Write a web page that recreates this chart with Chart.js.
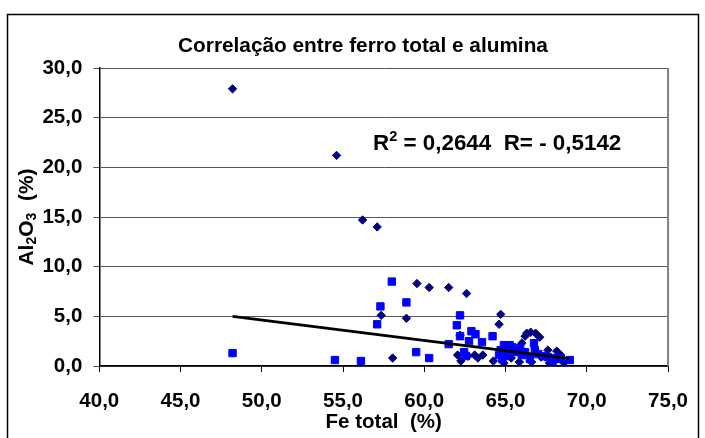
<!DOCTYPE html>
<html>
<head>
<meta charset="utf-8">
<script src="https://cdn.jsdelivr.net/npm/chart.js@4/dist/chart.umd.min.js"></script>
<style>
  html, body { margin: 0; padding: 0; background: #fff; }
  canvas { display: block; }
</style>
</head>
<body>
<canvas id="c" width="705" height="438"></canvas>
<script>
// Fe total (%) and Al2O3 (%) — first sample group (navy diamonds)
const feGrupo1 = [48.2, 54.6, 56.2, 57.1, 57.35, 58.05, 58.9, 59.55, 60.3, 61.5,
                  62.6, 64.7, 64.6, 62.2, 62.05, 62.25, 62.7, 63.1, 63.3, 63.6,
                  64.25, 65.1, 65.35, 65.85, 66.0, 66.2, 66.3, 66.55, 66.85, 67.1,
                  66.6, 67.6, 68.15, 67.7, 68.6, 67.2, 68.2, 66.9, 64.9, 68.4];
const alGrupo1 = [27.9, 21.2, 14.7, 14.0, 5.1, 0.8, 4.8, 8.3, 7.9, 7.9,
                  7.3, 5.2, 4.2, 3.1, 1.1, 0.5, 1.0, 1.1, 0.8, 1.1,
                  0.5, 1.4, 0.8, 0.4, 2.3, 3.0, 3.3, 3.4, 3.3, 2.9,
                  0.4, 1.6, 1.5, 0.3, 0.3, 0.9, 0.8, 1.4, 0.3, 1.1];

// second sample group (blue squares)
const feGrupo2 = [48.2, 54.5, 56.1, 57.1, 57.3, 58.0, 58.9, 59.5, 60.3, 61.5,
                  62.0, 62.2, 62.2, 62.45, 62.55, 62.75, 62.9, 63.15, 63.55, 64.2,
                  64.6, 64.8, 64.9, 65.25, 65.4, 65.55, 65.9, 66.0, 66.2, 66.75,
                  66.8, 67.0, 67.3, 67.6, 68.0, 68.4, 68.95, 66.5, 64.7, 65.0, 67.9];
const alGrupo2 = [1.3, 0.6, 0.5, 4.2, 6.0, 8.5, 6.4, 1.4, 0.8, 2.2,
                  4.1, 5.1, 3.0, 1.4, 1.0, 2.5, 3.5, 3.2, 2.4, 3.0,
                  1.1, 0.7, 2.1, 2.1, 1.9, 1.4, 1.8, 1.1, 1.4, 2.3,
                  1.6, 1.2, 1.0, 0.9, 0.8, 0.7, 0.6, 0.7, 1.6, 1.0, 0.5];

// linear trend line, end points
const tendFe = [48.2, 68.9];
const tendAl = [5.0, 0.75];

// axis ticks and their labels
const xTicks = [40, 45, 50, 55, 60, 65, 70, 75];
const xTickLabels = ['40,0', '45,0', '50,0', '55,0', '60,0', '65,0', '70,0', '75,0'];
const yTicks = [0, 5, 10, 15, 20, 25, 30];
const yTickLabels = ['0,0', '5,0', '10,0', '15,0', '20,0', '25,0', '30,0'];

// texts
const tituloTexto = 'Correlação entre ferro total e alumina';
const eixoXTexto = 'Fe total  (%)';
const r2Texto = ' = 0,2644  R= - 0,5142';

const FONT = '"Liberation Sans", Arial, Helvetica, sans-serif';
const pares = (xs, ys) => xs.map((x, i) => ({ x: x, y: ys[i] }));

// frame, titles and the R² annotation
const decoracao = {
  id: 'decoracao',
  afterDraw(chart) {
    const ctx = chart.ctx;
    const a = chart.chartArea;
    ctx.save();

    // outer frame of the chart
    ctx.strokeStyle = '#000';
    ctx.lineWidth = 1.5;
    ctx.strokeRect(7.5, 14.5, 691, 440);

    // right edge of the plot area
    ctx.strokeStyle = '#808080';
    ctx.lineWidth = 2;
    ctx.beginPath();
    ctx.moveTo(a.right, a.top);
    ctx.lineTo(a.right, a.bottom);
    ctx.stroke();

    ctx.fillStyle = '#000';
    ctx.textBaseline = 'alphabetic';

    // chart title
    ctx.font = 'bold 20.8px ' + FONT;
    ctx.textAlign = 'center';
    ctx.fillText(tituloTexto, 363, 52);

    // x axis title
    ctx.font = 'bold 20.5px ' + FONT;
    ctx.fillText(eixoXTexto, (a.left + a.right) / 2, 428);

    // y axis title: Al2O3 (%) with subscripts
    const partes = [
      { t: 'Al', f: 'bold 21px ', dy: 0 },
      { t: '2', f: 'bold 14px ', dy: 3 },
      { t: 'O', f: 'bold 21px ', dy: 0 },
      { t: '3', f: 'bold 14px ', dy: 3 },
      { t: '  (%)', f: 'bold 21px ', dy: 0 }
    ];
    let total = 0;
    partes.forEach(p => { ctx.font = p.f + FONT; p.w = ctx.measureText(p.t).width; total += p.w; });
    ctx.translate(33, (a.top + a.bottom) / 2);
    ctx.rotate(-Math.PI / 2);
    ctx.textAlign = 'left';
    let px = -total / 2;
    partes.forEach(p => { ctx.font = p.f + FONT; ctx.fillText(p.t, px, p.dy); px += p.w; });
    ctx.setTransform(1, 0, 0, 1, 0, 0);

    // correlation annotation: R² = ...  R= ...
    let rx = 373;
    const ry = 150;
    ctx.textAlign = 'left';
    ctx.font = 'bold 22.4px ' + FONT;
    ctx.fillText('R', rx, ry);
    rx += ctx.measureText('R').width;
    ctx.font = 'bold 14.5px ' + FONT;
    ctx.fillText('2', rx, ry - 9);
    rx += ctx.measureText('2').width;
    ctx.font = 'bold 22.4px ' + FONT;
    ctx.fillText(r2Texto, rx, ry);

    ctx.restore();
  }
};

new Chart(document.getElementById('c'), {
  type: 'scatter',
  data: {
    datasets: [
      {
        type: 'line',
        data: pares(tendFe, tendAl),
        borderColor: '#000',
        borderWidth: 2.8,
        pointRadius: 0,
        showLine: true,
        fill: false,
        order: 0
      },
      {
        data: pares(feGrupo2, alGrupo2),
        pointStyle: 'rect',
        pointRadius: 5.2,
        backgroundColor: '#0000FF',
        borderColor: '#0000FF',
        borderWidth: 1,
        order: 1
      },
      {
        data: pares(feGrupo1, alGrupo1),
        pointStyle: 'rectRot',
        pointRadius: 4.2,
        backgroundColor: '#000080',
        borderColor: '#000080',
        borderWidth: 1,
        order: 2
      }
    ]
  },
  options: {
    responsive: false,
    animation: false,
    events: [],
    layout: { padding: { left: 0, right: 25.7, top: 68, bottom: 0 } },
    plugins: {
      legend: { display: false },
      tooltip: { enabled: false },
      title: { display: false }
    },
    scales: {
      x: {
        type: 'linear',
        min: 40,
        max: 75,
        afterFit: s => { s.height = 72; },
        afterBuildTicks: s => { s.ticks = xTicks.map(v => ({ value: v })); },
        ticks: {
          callback: v => { const i = xTicks.indexOf(v); return i >= 0 ? xTickLabels[i] : ''; },
          font: { family: FONT, size: 20.5, weight: 'bold' },
          color: '#000',
          padding: 17,
          maxRotation: 0
        },
        grid: { drawOnChartArea: false, drawTicks: true, tickLength: 6, color: '#000', lineWidth: 1 },
        border: { color: '#000', width: 1.5 }
      },
      y: {
        type: 'linear',
        min: 0,
        max: 30,
        afterFit: s => { s.width = 99.3; },
        afterBuildTicks: s => { s.ticks = yTicks.map(v => ({ value: v })); },
        ticks: {
          callback: v => { const i = yTicks.indexOf(v); return i >= 0 ? yTickLabels[i] : ''; },
          font: { family: FONT, size: 20.5, weight: 'bold' },
          color: '#000',
          padding: 11
        },
        grid: { drawTicks: true, tickLength: 6, color: '#555', lineWidth: 1 },
        border: { color: '#000', width: 1.5 }
      }
    }
  },
  plugins: [decoracao]
});
</script>
</body>
</html>
